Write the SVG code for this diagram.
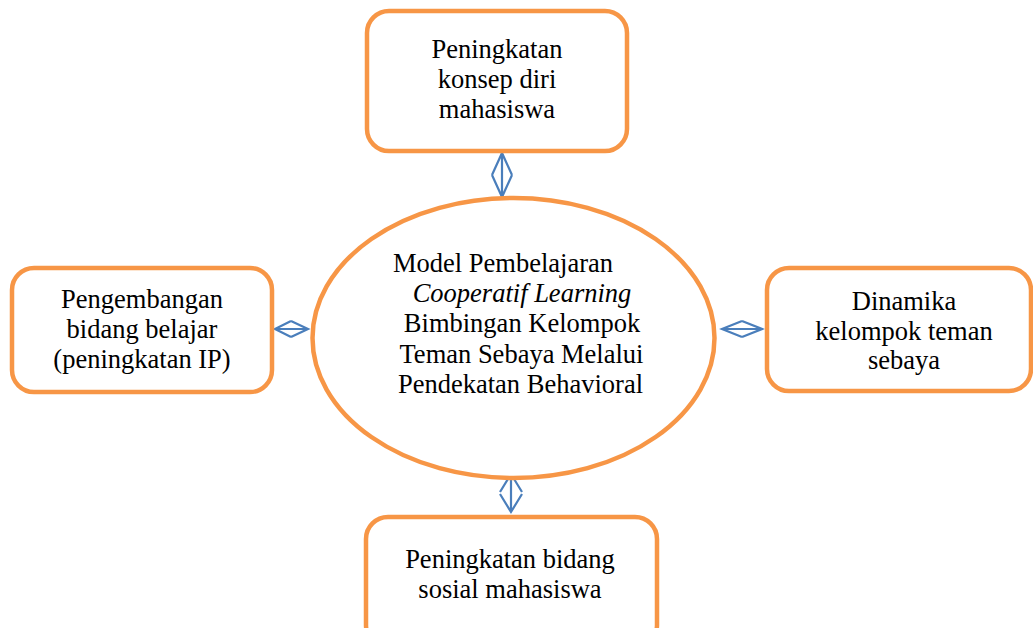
<svg xmlns="http://www.w3.org/2000/svg" width="1033" height="628" viewBox="0 0 1033 628">
<style>
.box{fill:#fff;stroke:#F79646;stroke-width:4.5}
.t{font-family:"Liberation Serif","Times New Roman",serif;font-size:26.5px;fill:#000;text-anchor:middle}
.it{font-style:italic}
.ar{fill:none;stroke:#4A7EBB;stroke-width:2.2;stroke-linejoin:miter}
</style>
<rect width="1033" height="628" fill="#fff"/>
<g id="connectors">
<path class="ar" d="M492,175 L502,153 L512,175 M502,153 L502,197 M492,175 L502,197 L512,175"/>
<path class="ar" d="M291,321 L275,329 L291,337 M275,329 L308,329 M291,321 L308,329 L291,337"/>
<path class="ar" d="M742,321 L722,329 L742,337 M722,329 L762,329 M742,321 L762,329 L742,337"/>
<path class="ar" d="M500,492 L511,474 L522,492 M511,474 L511,512 M500,494 L511,512 L522,494"/>
</g>
<g id="node-top">
<rect class="box" x="367" y="11" width="260" height="140" rx="22"/>
<text class="t" x="497" y="58">Peningkatan</text>
<text class="t" x="497" y="88">konsep diri</text>
<text class="t" x="497" y="118">mahasiswa</text>
</g>
<g id="node-left">
<rect class="box" x="12" y="268" width="260" height="124" rx="22"/>
<text class="t" x="142" y="308">Pengembangan</text>
<text class="t" x="142" y="338">bidang belajar</text>
<text class="t" x="142" y="368">(peningkatan IP)</text>
</g>
<g id="node-right">
<rect class="box" x="767" y="268" width="264" height="123" rx="22"/>
<text class="t" x="904" y="310">Dinamika</text>
<text class="t" x="904" y="340">kelompok teman</text>
<text class="t" x="904" y="369">sebaya</text>
</g>
<g id="node-bottom">
<rect class="box" x="366" y="517" width="291" height="130" rx="22"/>
<text class="t" x="510" y="568">Peningkatan bidang</text>
<text class="t" x="510" y="598">sosial mahasiswa</text>
</g>
<g id="node-center">
<ellipse class="box" cx="513.5" cy="338" rx="201" ry="140"/>
<text class="t" x="503" y="272">Model Pembelajaran</text>
<text class="t it" x="522" y="302">Cooperatif Learning</text>
<text class="t" x="522" y="332">Bimbingan Kelompok</text>
<text class="t" x="521.5" y="363">Teman Sebaya Melalui</text>
<text class="t" x="520.5" y="393">Pendekatan Behavioral</text>
</g>
</svg>
